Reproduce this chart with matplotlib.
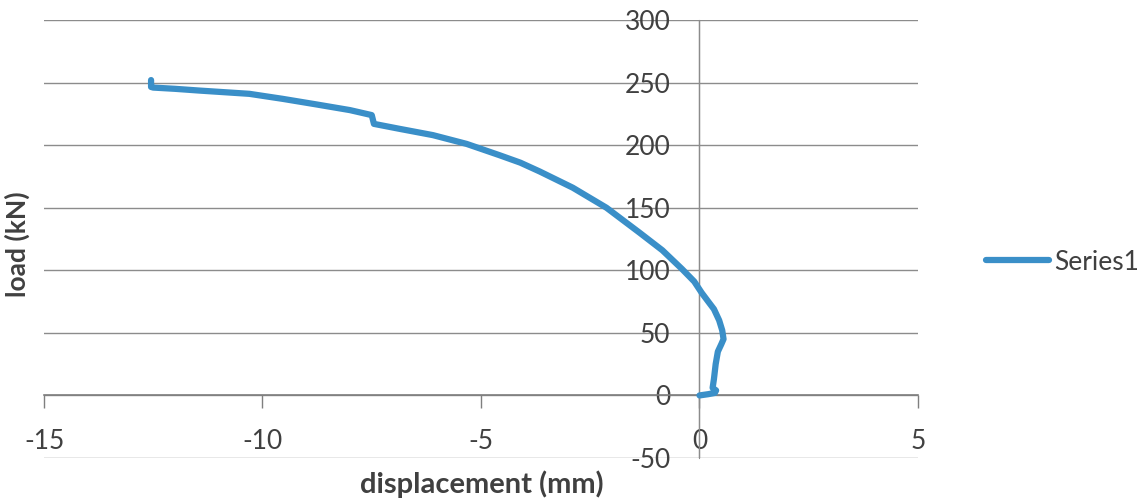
import matplotlib
matplotlib.use("Agg")
import matplotlib.pyplot as plt

# Data
displacement = [0.0, 0.2, 0.35, 0.38, 0.3, 0.33, 0.37, 0.42, 0.5, 0.55, 0.52, 0.45, 0.33,
                0.2, 0.05, -0.12, -0.4, -0.85, -1.37, -1.75, -2.13, -2.9, -3.66, -4.1,
                -4.58, -5.33, -6.1, -6.86, -7.45, -7.5, -8.0, -8.76, -9.54, -10.3,
                -11.44, -12.0, -12.5, -12.55, -12.55]
load = [0.0, 1.0, 2.0, 4.0, 6.0, 13.0, 25.0, 35.0, 41.0, 45.0, 52.0, 60.0, 69.0,
        75.0, 82.0, 91.0, 101.0, 116.0, 130.0, 140.0, 150.0, 166.0, 179.0, 186.0,
        192.0, 201.0, 208.0, 213.0, 217.0, 224.0, 228.0, 232.5, 237.0, 241.0,
        243.6, 245.0, 246.0, 246.5, 252.0]
series_name = "Series1"
x_ticks = [-15, -10, -5, 0, 5]
y_ticks = [-50, 0, 50, 100, 150, 200, 250, 300]

plt.rcParams['font.family'] = ['Lato', 'DejaVu Sans']
plt.rcParams['axes.unicode_minus'] = False

fig = plt.figure(figsize=(11.44, 5.0), dpi=100)
ax = fig.add_axes([44/1144, 1-458/500, (918-44)/1144, (458-20)/500])

for y in y_ticks:
    ax.axhline(y, color='#8c8c8c', lw=1.0, zorder=1)
ax.axvline(0, color='#8c8c8c', lw=1.0, zorder=1)

ax.plot(displacement, load, color='#3a8fc8', lw=4.5, solid_capstyle='round',
        solid_joinstyle='round', label=series_name, zorder=3)

ax.set_xlim(-15, 5)
ax.set_ylim(-50, 300)
ax.set_xticks(x_ticks)
ax.set_yticks(y_ticks)

for s in ['top', 'right']:
    ax.spines[s].set_visible(False)
ax.spines['left'].set_position(('data', 0))
ax.spines['bottom'].set_position(('data', 0))
ax.spines['left'].set_color('#8c8c8c')
ax.spines['bottom'].set_color('#7f7f7f')
ax.spines['bottom'].set_linewidth(1.2)

ax.tick_params(axis='x', direction='out', length=9, width=1, color='#7f7f7f',
               labelsize=19, pad=15, labelcolor='#404040')
ax.tick_params(axis='y', length=0, labelsize=19, pad=21, labelcolor='#404040')

ax.set_xlabel('displacement (mm)', fontsize=21, fontweight='bold', color='#404040')
ax.set_ylabel('load (kN)', fontsize=19, fontweight='bold', color='#404040')
ax.xaxis.set_label_coords(0.501, -0.028)
ax.yaxis.set_label_coords(-0.016, 0.489)

leg = ax.legend(loc='center left', bbox_to_anchor=(962/1144, 1-262/500),
                bbox_transform=fig.transFigure, frameon=False, fontsize=19,
                handlelength=2.4, handletextpad=0.2)
for t in leg.get_texts():
    t.set_color('#404040')

fig.savefig('out.png', dpi=100)
